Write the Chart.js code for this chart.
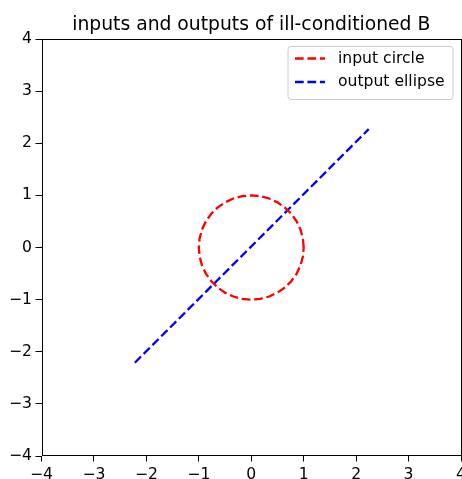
<!DOCTYPE html>
<html>
<head>
<meta charset="utf-8">
<script src="https://cdn.jsdelivr.net/npm/chart.js@4"></script>
<style>html,body{margin:0;padding:0;background:#fff;}canvas{display:block;}</style>
</head>
<body>
<canvas id="c" width="462" height="479"></canvas>
<script>
const titleText = 'inputs and outputs of ill-conditioned B';
const seriesLabels = ['input circle', 'output ellipse'];
const circleX = [1.000,0.985,0.940,0.866,0.766,0.643,0.500,0.342,0.174,0.000,-0.174,-0.342,-0.500,-0.643,-0.766,-0.866,-0.940,-0.985,-1.000,-0.985,-0.940,-0.866,-0.766,-0.643,-0.500,-0.342,-0.174,0.000,0.174,0.342,0.500,0.643,0.766,0.866,0.940,0.985,1.000];
const circleY = [0.000,0.174,0.342,0.500,0.643,0.766,0.866,0.940,0.985,1.000,0.985,0.940,0.866,0.766,0.643,0.500,0.342,0.174,0.000,-0.174,-0.342,-0.500,-0.643,-0.766,-0.866,-0.940,-0.985,-1.000,-0.985,-0.940,-0.866,-0.766,-0.643,-0.500,-0.342,-0.174,0.000];
const ellipseX = [-2.22, 2.24];
const ellipseY = [-2.21, 2.27];
const tickValues = [-4, -3, -2, -1, 0, 1, 2, 3, 4];
const tickLabels = ['\u22124', '\u22123', '\u22122', '\u22121', '0', '1', '2', '3', '4'];

const toPts = (xs, ys) => xs.map((x, i) => ({x: x, y: ys[i]}));
const FONT = "'DejaVu Sans', sans-serif";
const DASH = [8.7, 3.75];
const LW = 2.3;

const framePlugin = {
  id: 'frameLegend',
  afterDraw(chart) {
    const ctx = chart.ctx, a = chart.chartArea;
    ctx.save();
    // title centred over the plot area
    ctx.fillStyle = '#000';
    ctx.font = '18.75px ' + FONT;
    ctx.textAlign = 'center';
    ctx.textBaseline = 'alphabetic';
    ctx.fillText(titleText, (a.left + a.right) / 2, 30);
    // frame
    ctx.strokeStyle = '#000';
    ctx.lineWidth = 1;
    ctx.setLineDash([]);
    ctx.strokeRect(Math.round(a.left) + 0.5, Math.round(a.top) + 0.5, Math.round(a.right - a.left) - 1, Math.round(a.bottom - a.top) - 1);
    // legend
    const bx = a.right - 173, by = a.top + 7.5, bw = 165, bh = 53, r = 3;
    ctx.beginPath();
    ctx.moveTo(bx + r, by);
    ctx.lineTo(bx + bw - r, by); ctx.quadraticCurveTo(bx + bw, by, bx + bw, by + r);
    ctx.lineTo(bx + bw, by + bh - r); ctx.quadraticCurveTo(bx + bw, by + bh, bx + bw - r, by + bh);
    ctx.lineTo(bx + r, by + bh); ctx.quadraticCurveTo(bx, by + bh, bx, by + bh - r);
    ctx.lineTo(bx, by + r); ctx.quadraticCurveTo(bx, by, bx + r, by);
    ctx.closePath();
    ctx.fillStyle = 'rgba(255,255,255,0.8)';
    ctx.fill();
    ctx.strokeStyle = '#cccccc';
    ctx.stroke();
    chart.data.datasets.forEach((ds, i) => {
      const yy = by + 12 + i * 23.5;
      ctx.beginPath();
      ctx.setLineDash(ds.borderDash);
      ctx.strokeStyle = ds.borderColor;
      ctx.lineWidth = ds.borderWidth;
      ctx.moveTo(bx + 7, yy);
      ctx.lineTo(bx + 37, yy);
      ctx.stroke();
      ctx.setLineDash([]);
      ctx.fillStyle = '#000';
      ctx.font = '15.6px ' + FONT;
      ctx.textBaseline = 'middle';
      ctx.textAlign = 'left';
      ctx.fillText(ds.label, bx + 50, yy);
    });
    ctx.restore();
  }
};

function axisOpts(isX) {
  return {
    type: 'linear',
    min: -4, max: 4,
    afterBuildTicks(scale) { scale.ticks = tickValues.map(v => ({value: v})); },
    afterFit(scale) {
      if (isX) { scale.height = 23; } else { scale.width = 41.5; }
      scale.paddingLeft = 0; scale.paddingRight = 0; scale.paddingTop = 0; scale.paddingBottom = 0;
    },
    grid: { display: true, drawOnChartArea: false, drawTicks: true, tickLength: isX ? 5.5 : 6, color: '#000', lineWidth: 1 },
    border: { display: false },
    ticks: {
      autoSkip: false, maxRotation: 0, minRotation: 0,
      padding: isX ? 4 : 3.5,
      color: '#000',
      font: { family: FONT, size: 15.6 },
      callback(v) { const i = tickValues.indexOf(v); return i >= 0 ? tickLabels[i] : ''; }
    }
  };
}

new Chart(document.getElementById('c'), {
  type: 'scatter',
  data: {
    datasets: [
      { label: seriesLabels[0], data: toPts(circleX, circleY), showLine: true, borderColor: '#ff0000', borderWidth: LW, borderDash: DASH, pointRadius: 0, fill: false, tension: 0 },
      { label: seriesLabels[1], data: toPts(ellipseX, ellipseY), showLine: true, borderColor: '#0000ff', borderWidth: LW, borderDash: DASH, pointRadius: 0, fill: false, tension: 0 }
    ]
  },
  options: {
    responsive: false,
    devicePixelRatio: 1,
    animation: false,
    layout: { padding: { left: 0, right: 1, top: 39, bottom: 0 } },
    plugins: {
      legend: { display: false },
      tooltip: { enabled: false },
      title: { display: false }
    },
    scales: { x: axisOpts(true), y: axisOpts(false) }
  },
  plugins: [framePlugin]
});
</script>
</body>
</html>
